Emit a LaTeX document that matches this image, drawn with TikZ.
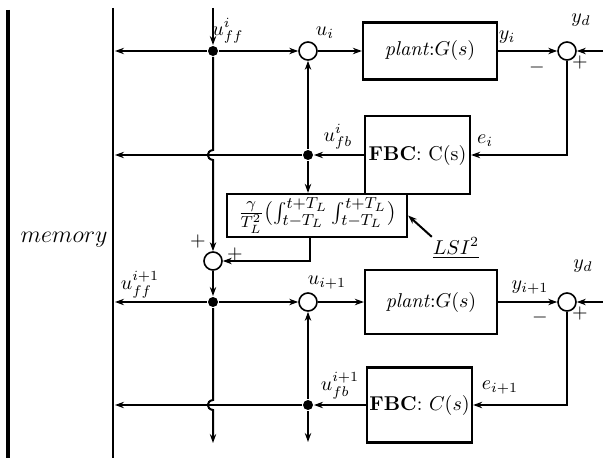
\documentclass[tikz,border=0pt]{standalone}
\usetikzlibrary{arrows.meta}
\begin{document}
\begin{tikzpicture}[x=0.5pt,y=-0.5pt, line width=1pt,
  arr/.style={-{Stealth[length=4.5pt,width=3.2pt]}},
  blk/.style={draw, line width=1.1pt, inner sep=0pt},
  sumc/.style={draw, circle, minimum size=9pt, inner sep=0pt, line width=0.8pt},
  dotn/.style={circle, fill, minimum size=5pt, inner sep=0pt},
  lbl/.style={inner sep=0pt}]
\useasboundingbox (0,0) rectangle (603,460);
% memory lines
\coordinate (mt1) at (8,10);
\coordinate (mb1) at (8,458);
\coordinate (mt2) at (113,8);
\coordinate (mb2) at (113,458);
\draw[line width=1.6pt] (mt1) -- (mb1);
\draw[line width=1.4pt] (mt2) -- (mb2);
\node[lbl] (mem) at (64,240) {\large $memory$};

% row 1
\node[dotn] (d0) at (213,51) {};
\node[sumc] (s1) at (308,51) {};
\node[blk, minimum width=67pt, minimum height=28.5pt] (p1) at (430,51) {\textit{plant}:$G(s)$};
\node[sumc] (r1) at (567,51) {};
\coordinate (yd1) at (603,51);
\node[blk, minimum width=52.5pt, minimum height=39pt] (f1) at (417.5,155) {\textbf{FBC}: C(s)};
\node[dotn] (d1) at (308,155) {};
\coordinate (l1) at (115,51);
\coordinate (l2) at (115,155);
\coordinate (top) at (213,8);

% LSI box
\node[blk, minimum width=90pt, minimum height=21.5pt, inner sep=0.5pt] (lsi) at (317,215.5)
  {\large $\frac{\gamma}{T_L^2}(\int_{t-T_L}^{t+T_L}\int_{t-T_L}^{t+T_L})$};
\node[lbl] (lsi2) at (456,248) {$\underline{LSI^2}$};
\coordinate (lb) at (310,237);
\node[sumc] (s3) at (213,261) {};

% row 2
\node[dotn] (d2) at (213,302) {};
\node[sumc] (s2) at (308,302) {};
\node[blk, minimum width=66pt, minimum height=32pt] (p2) at (431,302) {\textit{plant}:$G(s)$};
\node[sumc] (r2) at (567,302) {};
\coordinate (yd2) at (603,302);
\node[blk, minimum width=52.5pt, minimum height=37.5pt] (f2) at (419.5,405) {\textbf{FBC}: $C(s)$};
\node[dotn] (d3) at (308,405) {};
\coordinate (l3) at (115,302);
\coordinate (l4) at (115,405);
\coordinate (bot) at (213,443);
\coordinate (fbot) at (308,442);

% labels
\node[lbl] at (228,31) {$u_{ff}^{i}$};
\node[lbl] at (325,33) {$u_i$};
\node[lbl] at (507,37) {$y_i$};
\node[lbl] at (581,20) {$y_d$};
\node[lbl] at (537,68) {$-$};
\node[lbl] at (580,63) {$+$};
\node[lbl] at (338,137) {$u_{fb}^{i}$};
\node[lbl] at (485,141) {$e_i$};
\node[lbl] at (198,241) {$+$};
\node[lbl] at (235,254) {$+$};
\node[lbl] at (140,285) {$u_{ff}^{i+1}$};
\node[lbl] at (327,283) {$u_{i+1}$};
\node[lbl] at (530,288) {$y_{i+1}$};
\node[lbl] at (583,266) {$y_d$};
\node[lbl] at (540,317) {$-$};
\node[lbl] at (580,313) {$+$};
\node[lbl] at (340,386) {$u_{fb}^{i+1}$};
\node[lbl] at (500,388) {$e_{i+1}$};

% connectors row 1
\draw[arr] (top) -- (d0);
\draw[arr] (d0) -- (l1);
\draw[arr] (d0) -- (s1);
\draw[arr] (s1) -- (s1 -| p1.west);
\draw[arr] (s1 -| p1.east) -- (r1);
\draw[arr] (yd1) -- (r1);
\draw[arr] (r1.south) |- (f1.east);
\draw[arr] (f1.west) -- (d1);
\draw[arr] (d1) -- (l2);
\draw[arr] (d1) -- (s1.south);
\draw[arr] (d1) -- (d1 |- lsi.north);
\draw[arr] (lsi2.north west) -- (lsi.east);
\draw[arr] (lb) |- (s3.east);
\draw[arr] (d0) -- (213,150) .. controls (206,151) and (206,159) .. (213,160) -- (s3.north);
% row 2
\draw[arr] (s3.south) -- (d2);
\draw[arr] (d2) -- (l3);
\draw[arr] (d2) -- (s2);
\draw[arr] (s2) -- (s2 -| p2.west);
\draw[arr] (s2 -| p2.east) -- (r2);
\draw[arr] (yd2) -- (r2);
\draw[arr] (r2.south) |- (f2.east);
\draw[arr] (f2.west) -- (d3);
\draw[arr] (d3) -- (l4);
\draw[arr] (d3) -- (s2.south);
\draw[arr] (d3) -- (fbot);
\draw[arr] (d2) -- (213,400) .. controls (206,401) and (206,409) .. (213,410) -- (bot);
\end{tikzpicture}
\end{document}
